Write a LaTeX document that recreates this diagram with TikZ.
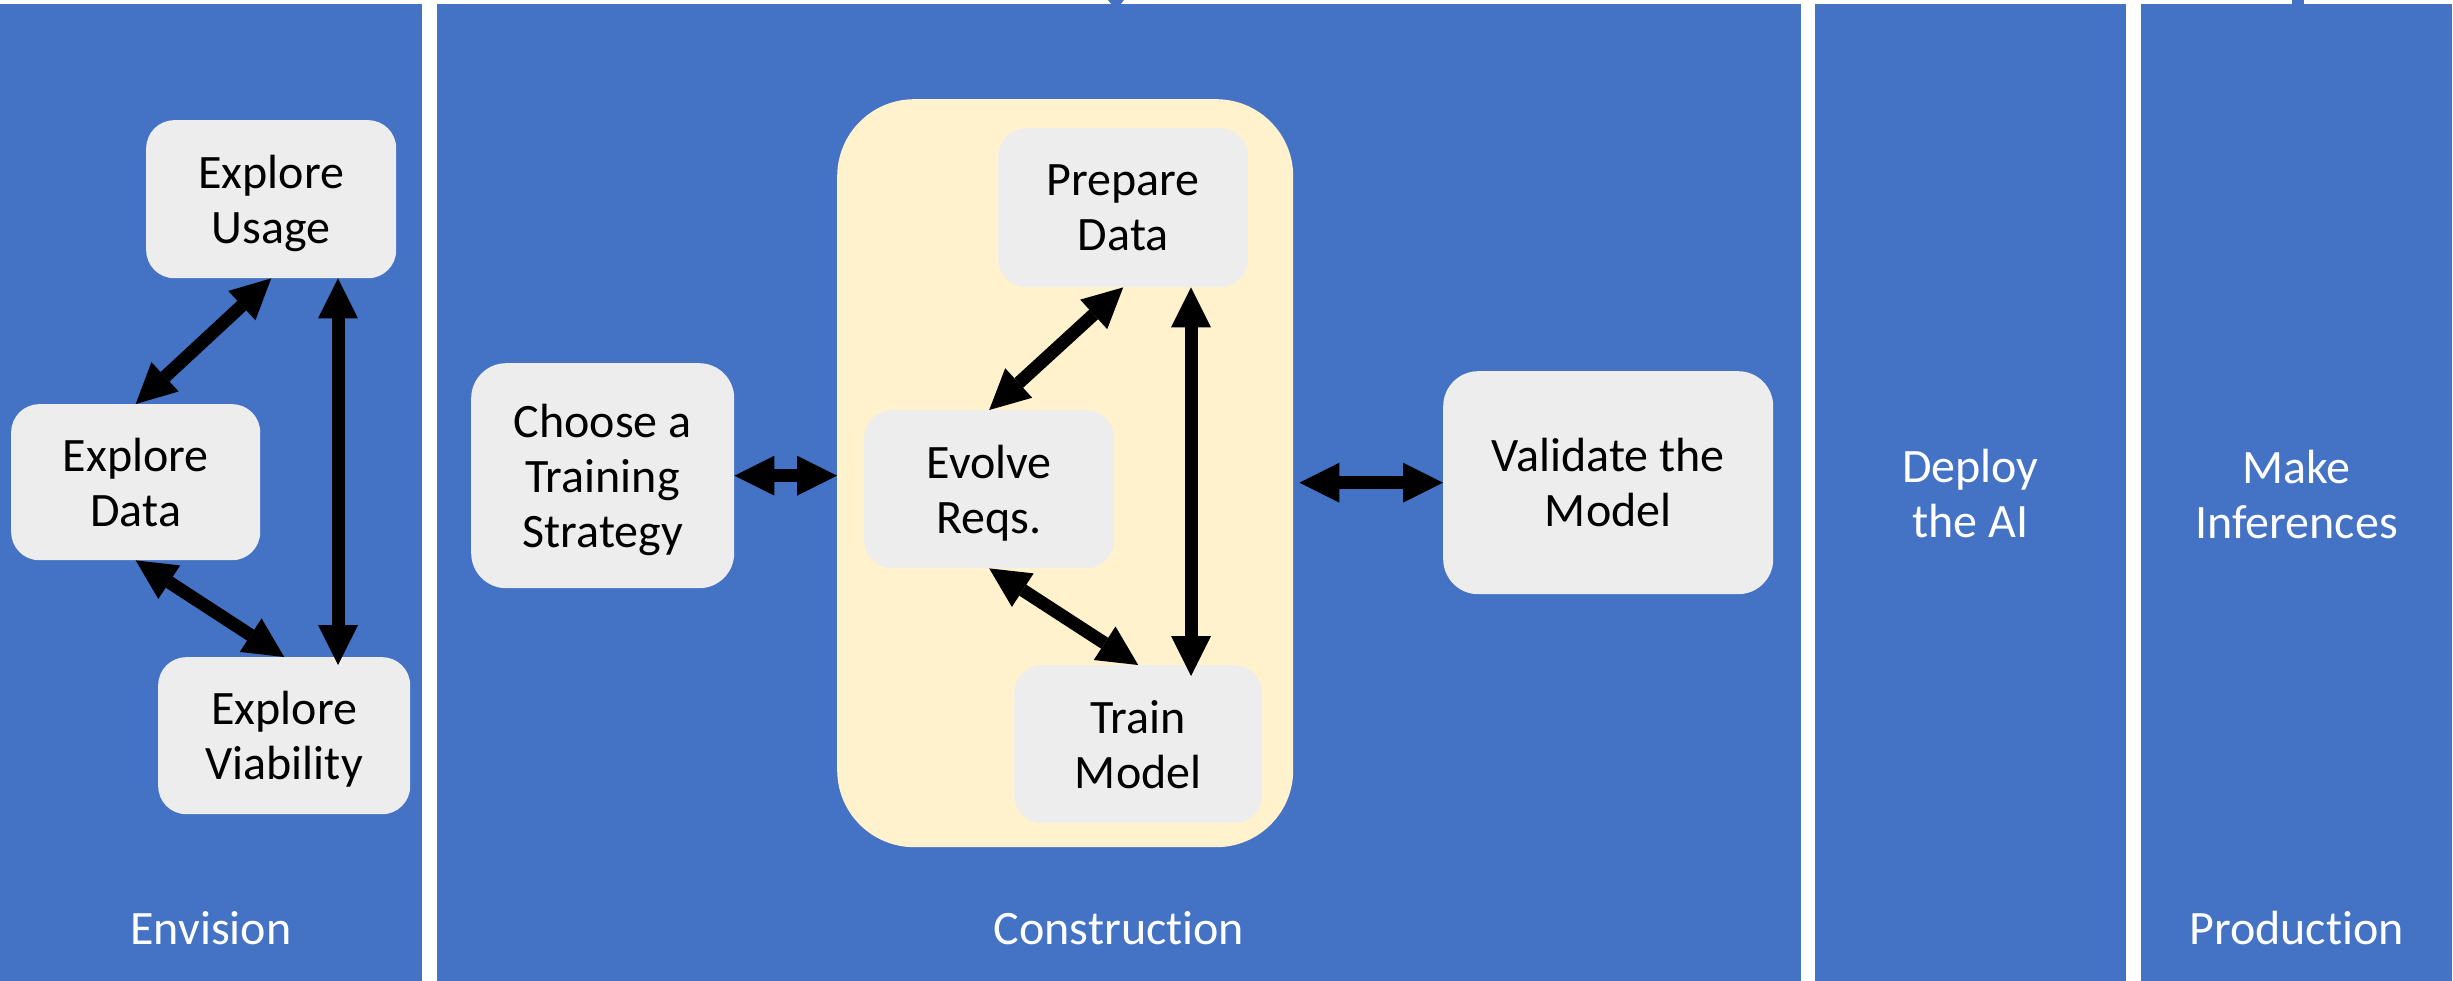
\documentclass[tikz,border=0pt]{standalone}
\usepackage{fontspec}
\setmainfont{Carlito}[Ligatures=NoCommon]
\usetikzlibrary{arrows.meta}
\definecolor{laneblue}{HTML}{4472C4}
\definecolor{stagefill}{HTML}{FFF2CC}
\definecolor{boxgray}{HTML}{EDEDED}
\newcommand\boxfont{\fontsize{48}{55}\selectfont}

\begin{document}
\begin{tikzpicture}[x=1pt,y=-1pt,
  lane/.style={fill=laneblue,draw=none},
  lanetext/.style={text=white,font=\boxfont,align=center,inner sep=0pt,text depth=0pt},
  task/.style={fill=boxgray,draw=none,rounded corners=28pt,align=center,
    font=\boxfont,inner sep=0pt,text depth=0pt,anchor=north west},
  bigtask/.style={task,rounded corners=35pt},
  stage/.style={fill=stagefill,draw=none,rounded corners=77pt,inner sep=0pt,anchor=north west},
  tip/.tip={Triangle[length=40pt,width=40pt,line width=0pt]},
  biarrow/.style={line width=13pt,tip-tip,black}
]
\useasboundingbox (0,0) rectangle (2453,981);

% swim lanes
\fill[lane] (0,4) rectangle (422,981);
\fill[lane] (437,4) rectangle (1801,981);
\fill[lane] (1815,4) rectangle (2126,981);
\fill[lane] (2141,4) rectangle (2452,981);
% small marks above the lanes
\fill[laneblue] (1108,0) -- (1124,0) -- (1120,5) -- (1112,5) -- cycle;
\fill[laneblue] (2292,0) rectangle (2304,5);

% lane titles
\node[lanetext] (envision) at (211,928) {Envision};
\node[lanetext] (construction) at (1119,928) {Construction};
\node[lanetext] (production) at (2296.5,928) {Production};
\node[lanetext] (deploy) at (1970.5,493) {Deploy\\the AI};
\node[lanetext] (infer) at (2296.5,494) {Make\\Inferences};

% envision tasks
\node[task,minimum width=250pt,minimum height=158pt] (usage) at (146,120) {Explore\\Usage};
\node[task,minimum width=249pt,minimum height=156pt] (data) at (11,404) {Explore\\Data};
\node[task,minimum width=252pt,minimum height=157pt] (viab) at (158,657) {Explore\\Viability};

% construction
\node[stage,minimum width=456pt,minimum height=748pt] (build) at (837,99) {};
\node[bigtask,minimum width=263pt,minimum height=225pt] (choose) at (471,363) {Choose a\\Training\\Strategy};
\node[task,minimum width=250pt,minimum height=159pt] (prep) at (998,128) {Prepare\\Data};
\node[task,minimum width=250pt,minimum height=158pt] (evolve) at (864,410) {Evolve\\Reqs.};
\node[task,minimum width=248pt,minimum height=158pt] (train) at (1014,665) {Train\\Model};
\node[bigtask,minimum width=330pt,minimum height=223pt] (validate) at (1443,371) {Validate the\\Model};

\coordinate (vx1) at (338,0);
\coordinate (vx2) at (1191,0);

% connectors
\draw[biarrow] (usage.south) -- (data.north);
\draw[biarrow] (data.south) -- (viab.north);
\draw[biarrow,shorten >=-8pt] (usage.south -| vx1) -- (viab.north -| vx1);

\draw[biarrow] (prep.south) -- (evolve.north);
\draw[biarrow] (evolve.south) -- (train.north);
\draw[biarrow,shorten >=-11pt] (prep.south -| vx2) -- (train.north -| vx2);

\draw[biarrow] (choose.east) -- (choose.east -| build.west);
\draw[biarrow,shorten <=6pt] (validate.west -| build.east) -- (validate.west);
\end{tikzpicture}
\end{document}
